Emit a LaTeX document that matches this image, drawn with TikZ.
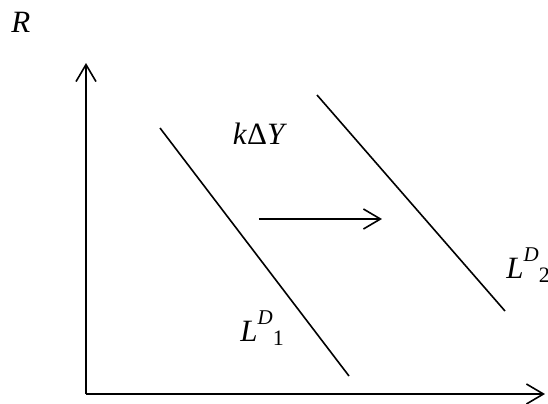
\documentclass[tikz,border=0pt]{standalone}
\usepackage{fontspec}
\setmainfont{Liberation Serif}
\usetikzlibrary{arrows.meta}
\newcommand{\ldlabel}[1]{\textit{L}\raisebox{8.5pt}{\fontsize{10.5}{10.5}\selectfont\textit{D}}\raisebox{-2pt}{\fontsize{11}{11}\selectfont #1}}
\tikzset{
    axis/.style={line width=0.8pt,-{Straight Barb[length=8.5pt,width=10pt,line width=0.8pt]}},
    curve/.style={line width=0.8pt},
    lbl/.style={font=\fontsize{15.5}{17}\selectfont,inner sep=0pt}
}
\begin{document}
\begin{tikzpicture}[x=0.5pt,y=-0.5pt]
        \useasboundingbox (0,0) rectangle (548,403);
        % axes
        \draw[axis] (86,394) -- (86,63);
        \draw[axis] (86,394) -- (545,394);
        \node[lbl,anchor=base west] (r) at (11,32) {\textit{R}};
        % demand curves
        \draw[curve] (160,128) -- (349,376);
        \draw[curve] (317,95) -- (505,311);
        \node[lbl,anchor=base west] (ld1) at (240,341) {\ldlabel{1}};
        \node[lbl,anchor=base west] (ld2) at (506,278) {\ldlabel{2}};
        % shift
        \draw[axis] (259,219) -- (382,219);
        \node[lbl] (shift) at (260,134) {\textit{k}Δ\textit{Y}};
    \end{tikzpicture}
\end{document}
